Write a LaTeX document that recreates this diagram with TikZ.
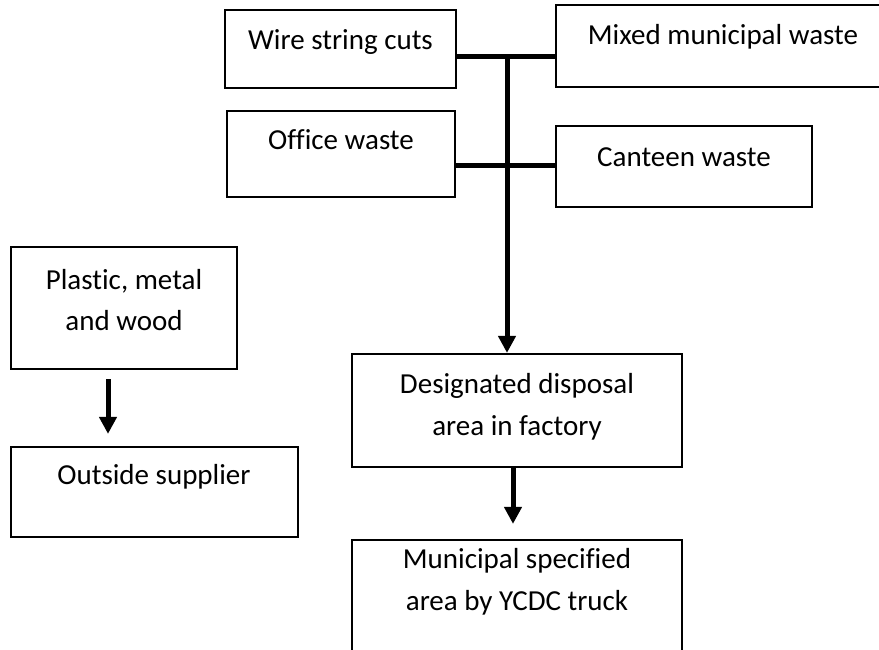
\documentclass[tikz,border=0pt]{standalone}
\usepackage{fontspec}
\setmainfont{Carlito}[Ligatures=NoCommon]
\usetikzlibrary{arrows.meta}
\begin{document}
\begin{tikzpicture}[x=1pt,y=-1pt,
  boxnode/.style={draw=black, line width=2.2pt, rectangle, inner sep=0pt, fill=white},
  txt/.style={align=center, inner sep=0pt, font=\fontsize{29}{41.5}\selectfont},
  conn/.style={line width=5pt},
  arr/.style={line width=5pt, -{Triangle[length=17pt,width=17pt]}}]
\clip (0,0) rectangle (879,650);
\fill[white] (0,0) rectangle (879,650);
% boxes
\node[boxnode, minimum width=231pt, minimum height=78pt] (wire) at (340.5,49) {};
\node[boxnode, minimum width=336pt, minimum height=82pt] (mixed) at (724,46) {};
\node[boxnode, minimum width=228pt, minimum height=86pt] (office) at (341,154) {};
\node[boxnode, minimum width=256pt, minimum height=81pt] (canteen) at (684,166.5) {};
\node[boxnode, minimum width=226pt, minimum height=122pt] (plastic) at (124,308) {};
\node[boxnode, minimum width=287pt, minimum height=90pt] (outside) at (154.5,492) {};
\node[boxnode, minimum width=330pt, minimum height=113pt] (desig) at (517,410.5) {};
\node[boxnode, minimum width=330pt, minimum height=112pt] (munic) at (517,596) {};
% texts
\node[txt] (twire) at (340.5,42) {Wire string cuts};
\node[txt] (tmixed) at (723,37) {Mixed municipal waste};
\node[txt] (toffice) at (341,140) {Office waste};
\node[txt] (tcanteen) at (684,157) {Canteen waste};
\node[txt] (tplastic) at (124,300) {Plastic, metal\\and wood};
\node[txt] (toutside) at (154,477) {Outside supplier};
\node[txt] (tdesig) at (517,407) {Designated disposal\\area in factory};
\node[txt] (tmunic) at (517,582) {Municipal specified\\area by YCDC truck};
% connectors
\coordinate (j1) at (507,57);
\coordinate (j2) at (507,166);
\coordinate (ca) at (108,0);
\coordinate (cb) at (513,0);
\draw[conn] (wire.east |- j1) -- (mixed.west |- j1);
\draw[conn] (office.east |- j2) -- (canteen.west |- j2);
\draw[arr] ([yshift=2.5pt]j1) -- (j1 |- desig.north);
\draw[arr, shorten <=9pt, shorten >=12pt] (plastic.south -| ca) -- (outside.north -| ca);
\draw[arr, shorten >=15pt] (desig.south -| cb) -- (munic.north -| cb);
\end{tikzpicture}
\end{document}
